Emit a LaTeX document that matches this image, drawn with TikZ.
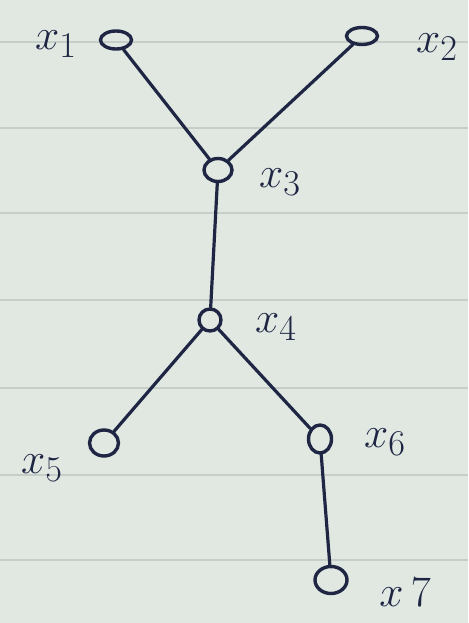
\documentclass[tikz,border=0pt]{standalone}
\usepackage{graphicx}
\usetikzlibrary{shapes.geometric}
\definecolor{paper}{HTML}{E1E8E2}
\definecolor{rule}{HTML}{C6CEC9}
\definecolor{ink}{HTML}{1E2644}
\newcommand{\biglbl}[1]{\scalebox{1.75}{\Huge$#1$}}
\tikzset{
  vtx/.style={ellipse, draw=ink, line width=3.4pt, minimum width=25pt, minimum height=19pt, inner sep=0pt},
  lbl/.style={text=ink, inner sep=0pt},
  edge/.style={draw=ink, line width=3.2pt, line cap=round}
}
\begin{document}
\begin{tikzpicture}[x=1pt,y=-1pt]
\fill[paper] (0,0) rectangle (468,623);
\useasboundingbox (0,0) rectangle (468,623);
\foreach \yy in {42,128,213,300,388,475,560}
  \draw[rule, line width=2pt] (0,\yy) -- (468,\yy);
\node[vtx, minimum width=31pt, minimum height=18pt] (v1) at (116,40) {};
\node[vtx, minimum width=31pt, minimum height=17pt] (v2) at (362,36) {};
\node[vtx, minimum width=28pt, minimum height=23pt] (v3) at (218,170) {};
\node[vtx, minimum width=22pt, minimum height=22pt] (v4) at (210,320) {};
\node[vtx, minimum width=29pt, minimum height=26pt] (v5) at (104,443) {};
\node[vtx, minimum width=23pt, minimum height=28pt] (v6) at (320,439) {};
\node[vtx, minimum width=32pt, minimum height=27pt] (v7) at (331,580) {};
\node[lbl] (l1) at (56,44) {\biglbl{x_1}};
\node[lbl] (l2) at (437,47) {\biglbl{x_2}};
\node[lbl] (l3) at (280,182) {\biglbl{x_3}};
\node[lbl] (l4) at (276,327) {\biglbl{x_4}};
\node[lbl] (l5) at (42,468) {\biglbl{x_5}};
\node[lbl] (l6) at (385,442) {\biglbl{x_6}};
\node[lbl] (l7) at (405,592) {\biglbl{x\,7}};
\draw[edge] (v1) -- (v3);
\draw[edge] (v2) -- (v3);
\draw[edge] (v3) -- (v4);
\draw[edge] (v4) -- (v5);
\draw[edge] (v4) -- (v6);
\draw[edge] (v6) -- (v7);
\end{tikzpicture}
\end{document}
